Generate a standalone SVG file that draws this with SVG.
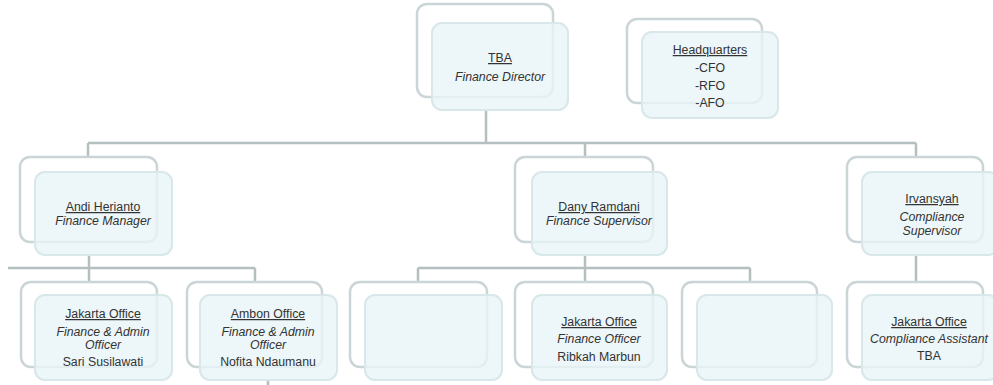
<svg xmlns="http://www.w3.org/2000/svg" width="993" height="385" viewBox="0 0 993 385">
<style>
.bk{fill:#ffffff;stroke:#cbd5d7;stroke-width:2.5}
.fr{fill:#e9f4f6;fill-opacity:0.8;stroke:#d8e7ea;stroke-width:2}
.cn{fill:none;stroke:#b5bfc0;stroke-width:2.5}
text{font-family:"Liberation Sans",Arial,sans-serif;font-size:12.3px;fill:#333333;text-anchor:middle}
.u{text-decoration:underline}
.i{font-style:italic}
</style>
<rect width="993" height="385" fill="#ffffff"/>
<g id="connectors">
<path class="cn" d="M486 110V143M88 143H916M88 143V157M585 143V157M916 143V157"/>
<path class="cn" d="M89 255V268M8 268H255M89 268V282M255 268V282M268 380V385"/>
<path class="cn" d="M585 255V268M418 268H750M418 268V282M585 268V282M750 268V282"/>
<path class="cn" d="M916 255V282"/>
</g>
<g id="tba">
<rect class="bk" x="417" y="4" width="136" height="93" rx="10"/>
<rect class="fr" x="432" y="23" width="136" height="87" rx="10"/>
<text x="500" y="62" class="u">TBA</text>
<text x="500" y="81" class="i">Finance Director</text>
</g>
<g id="hq">
<rect class="bk" x="627" y="19" width="135" height="84" rx="10"/>
<rect class="fr" x="642" y="32" width="136" height="86" rx="10"/>
<text x="710" y="54" class="u">Headquarters</text>
<text x="710" y="72">-CFO</text>
<text x="710" y="90">-RFO</text>
<text x="710" y="107">-AFO</text>
</g>
<g id="andi">
<rect class="bk" x="20" y="157" width="137" height="85" rx="10"/>
<rect class="fr" x="35" y="172" width="137" height="83" rx="10"/>
<text x="103" y="211" class="u">Andi Herianto</text>
<text x="103" y="225" class="i">Finance Manager</text>
</g>
<g id="dany">
<rect class="bk" x="515" y="157" width="138" height="85" rx="10"/>
<rect class="fr" x="532" y="172" width="135" height="83" rx="10"/>
<text x="599" y="211" class="u">Dany Ramdani</text>
<text x="599" y="225" class="i">Finance Supervisor</text>
</g>
<g id="irvansyah">
<rect class="bk" x="847" y="157" width="136" height="85" rx="10"/>
<rect class="fr" x="862" y="172" width="136" height="83" rx="10"/>
<text x="932" y="203" class="u">Irvansyah</text>
<text x="932" y="221" class="i">Compliance</text>
<text x="932" y="235" class="i">Supervisor</text>
</g>
<g id="jakarta-fa">
<rect class="bk" x="21" y="282" width="136" height="85" rx="10"/>
<rect class="fr" x="35" y="295" width="137" height="85" rx="10"/>
<text x="103" y="318" class="u">Jakarta Office</text>
<text x="103" y="336" class="i">Finance &amp; Admin</text>
<text x="103" y="349" class="i">Officer</text>
<text x="103" y="366">Sari Susilawati</text>
</g>
<g id="ambon">
<rect class="bk" x="187" y="282" width="135" height="85" rx="10"/>
<rect class="fr" x="200" y="295" width="137" height="85" rx="10"/>
<text x="268" y="318" class="u">Ambon Office</text>
<text x="268" y="336" class="i">Finance &amp; Admin</text>
<text x="268" y="349" class="i">Officer</text>
<text x="268" y="366">Nofita Ndaumanu</text>
</g>
<g id="empty-1">
<rect class="bk" x="350" y="282" width="137" height="85" rx="10"/>
<rect class="fr" x="365" y="295" width="137" height="85" rx="10"/>
</g>
<g id="jakarta-fo">
<rect class="bk" x="515" y="282" width="138" height="85" rx="10"/>
<rect class="fr" x="532" y="295" width="135" height="85" rx="10"/>
<text x="599" y="326" class="u">Jakarta Office</text>
<text x="599" y="343" class="i">Finance Officer</text>
<text x="599" y="361">Ribkah Marbun</text>
</g>
<g id="empty-2">
<rect class="bk" x="682" y="282" width="135" height="85" rx="10"/>
<rect class="fr" x="697" y="295" width="135" height="85" rx="10"/>
</g>
<g id="jakarta-ca">
<rect class="bk" x="847" y="282" width="136" height="85" rx="10"/>
<rect class="fr" x="862" y="295" width="136" height="85" rx="10"/>
<text x="929" y="326" class="u">Jakarta Office</text>
<text x="929" y="343" class="i">Compliance Assistant</text>
<text x="929" y="360">TBA</text>
</g>
</svg>
